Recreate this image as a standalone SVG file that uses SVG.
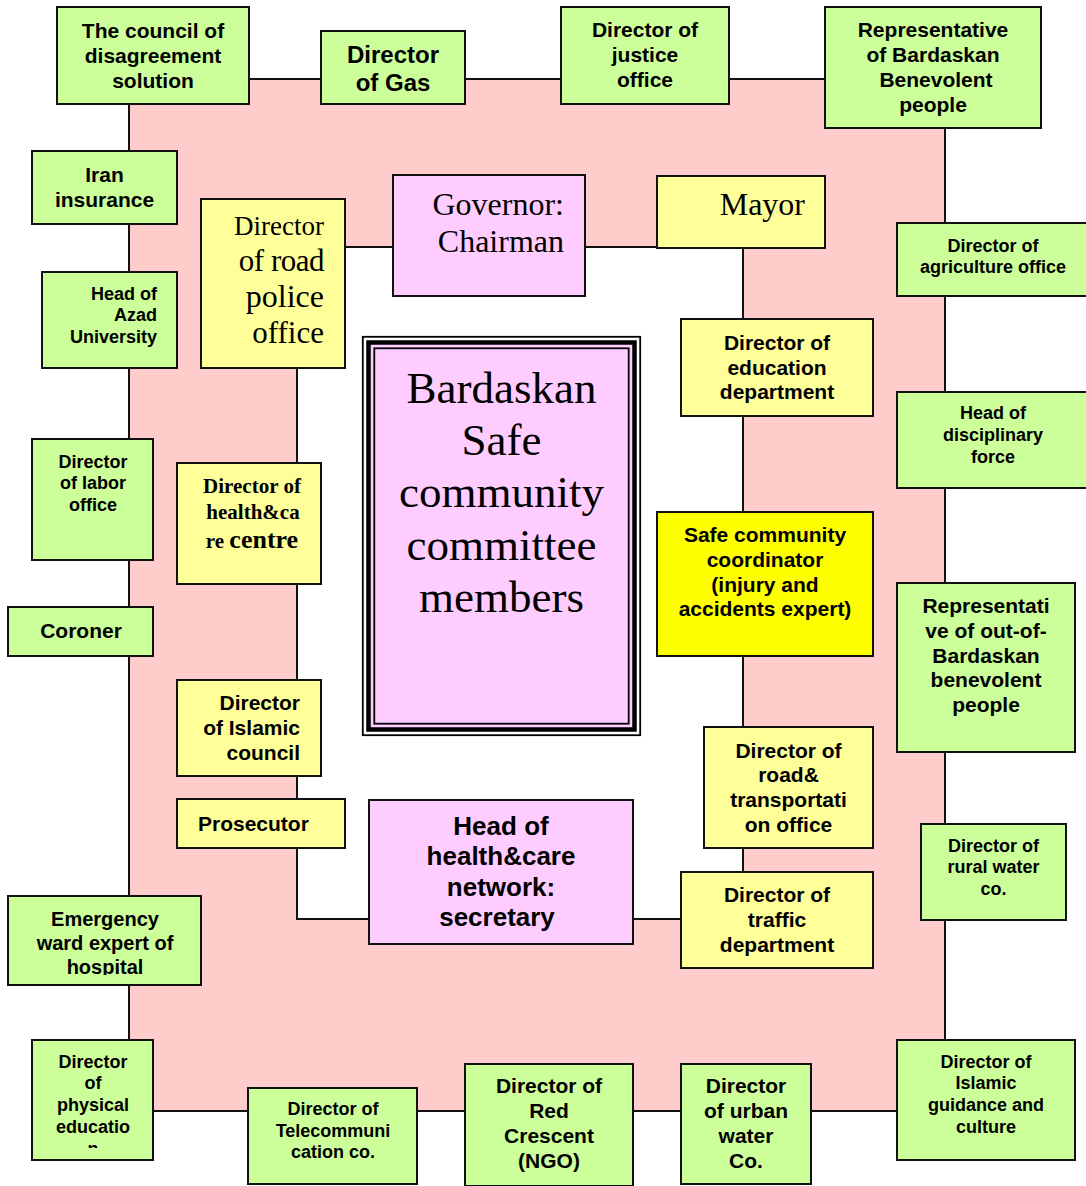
<svg xmlns="http://www.w3.org/2000/svg" width="1086" height="1186" viewBox="0 0 1086 1186">
<style>
.g{fill:#CCFF99;stroke:#111;stroke-width:2}
.y{fill:#FFFF99;stroke:#111;stroke-width:2}
.Y{fill:#FFFF00;stroke:#111;stroke-width:2}
.p{fill:#FFCCFF;stroke:#111;stroke-width:2}
.s{font-family:"Liberation Sans",Arial,sans-serif;font-weight:bold;fill:#000;text-anchor:middle}
.f18{font-size:18px}.f21{font-size:21px}.f20{font-size:20px}.f24{font-size:24px}.f26{font-size:26px}
.r{font-family:"Liberation Serif","Times New Roman",serif;fill:#000}
.e{text-anchor:end}.m{text-anchor:middle}.st{text-anchor:start}
.ln{fill:none;stroke:#111;stroke-width:2}
</style>
<defs>
<clipPath id="clipEm"><rect x="8" y="896" width="193" height="79"/></clipPath>
<clipPath id="clipPh"><rect x="32" y="1040" width="121" height="108"/></clipPath>
</defs>
<rect width="1086" height="1186" fill="#fff"/>
<g id="background">
<rect x="129" y="79" width="816" height="1032" fill="#FFCCCC"/>
<rect x="297" y="247" width="446" height="672" fill="#fff"/>
</g>
<g id="connectors">
<rect class="ln" x="129" y="79" width="816" height="1032"/>
<rect class="ln" x="297" y="247" width="446" height="672"/>
</g>
<g id="council"><rect class="g" x="57" y="7" width="192" height="97"/><text class="s f21"><tspan x="153" y="38">The council of</tspan><tspan x="153" y="63">disagreement</tspan><tspan x="153" y="88">solution</tspan></text></g>
<g id="gas"><rect class="g" x="321" y="31" width="144" height="73"/><text class="s f24"><tspan x="393" y="63">Director</tspan><tspan x="393" y="91">of Gas</tspan></text></g>
<g id="justice"><rect class="g" x="561" y="7" width="168" height="97"/><text class="s f21"><tspan x="645" y="37">Director of</tspan><tspan x="645" y="62">justice</tspan><tspan x="645" y="87">office</tspan></text></g>
<g id="rep-bardaskan"><rect class="g" x="825" y="7" width="216" height="121"/><text class="s f21"><tspan x="933" y="37">Representative</tspan><tspan x="933" y="62">of Bardaskan</tspan><tspan x="936" y="87">Benevolent</tspan><tspan x="933" y="112">people</tspan></text></g>
<g id="iran"><rect class="g" x="32" y="151" width="145" height="73"/><text class="s f21"><tspan x="104.5" y="182">Iran</tspan><tspan x="104.5" y="207">insurance</tspan></text></g>
<g id="azad"><rect class="g" x="42" y="272" width="135" height="96"/><text class="s f18 e"><tspan x="157" y="300">Head of</tspan><tspan x="157" y="321">Azad</tspan><tspan x="157" y="343">University</tspan></text></g>
<g id="labor"><rect class="g" x="32" y="439" width="121" height="121"/><text class="s f18"><tspan x="93" y="468">Director</tspan><tspan x="93" y="489">of labor</tspan><tspan x="93" y="511">office</tspan></text></g>
<g id="coroner"><rect class="g" x="8" y="607" width="145" height="49"/><text class="s f21" x="81" y="638">Coroner</text></g>
<g id="emergency"><rect class="g" x="8" y="896" width="193" height="89"/><text class="s f20" clip-path="url(#clipEm)"><tspan x="105" y="926">Emergency</tspan><tspan x="105" y="950">ward expert of</tspan><tspan x="105" y="974">hospital</tspan></text></g>
<g id="physical"><rect class="g" x="32" y="1040" width="121" height="120"/><text class="s f18" clip-path="url(#clipPh)"><tspan x="93" y="1068">Director</tspan><tspan x="93" y="1089">of</tspan><tspan x="93" y="1111">physical</tspan><tspan x="93" y="1133">educatio</tspan><tspan x="93" y="1155">n</tspan></text></g>
<g id="telecom"><rect class="g" x="248" y="1088" width="169" height="96"/><text class="s f18"><tspan x="333" y="1115">Director of</tspan><tspan x="333" y="1137">Telecommuni</tspan><tspan x="333" y="1158">cation co.</tspan></text></g>
<g id="red-crescent"><rect class="g" x="465" y="1064" width="168" height="122"/><text class="s f21"><tspan x="549" y="1093">Director of</tspan><tspan x="549" y="1118">Red</tspan><tspan x="549" y="1143">Crescent</tspan><tspan x="549" y="1168">(NGO)</tspan></text></g>
<g id="urban-water"><rect class="g" x="681" y="1064" width="130" height="120"/><text class="s f21"><tspan x="746" y="1093">Director</tspan><tspan x="746" y="1118">of urban</tspan><tspan x="746" y="1143">water</tspan><tspan x="746" y="1168">Co.</tspan></text></g>
<g id="islamic-guidance"><rect class="g" x="897" y="1040" width="178" height="120"/><text class="s f18"><tspan x="986" y="1068">Director of</tspan><tspan x="986" y="1089">Islamic</tspan><tspan x="986" y="1111">guidance and</tspan><tspan x="986" y="1133">culture</tspan></text></g>
<g id="rural-water"><rect class="g" x="921" y="824" width="145" height="96"/><text class="s f18"><tspan x="993.5" y="852">Director of</tspan><tspan x="993.5" y="873">rural water</tspan><tspan x="993.5" y="895">co.</tspan></text></g>
<g id="out-of-bardaskan"><rect class="g" x="897" y="583" width="178" height="169"/><text class="s f21"><tspan x="986" y="613">Representati</tspan><tspan x="986" y="638">ve of out-of-</tspan><tspan x="986" y="663">Bardaskan</tspan><tspan x="986" y="687">benevolent</tspan><tspan x="986" y="712">people</tspan></text></g>
<g id="disciplinary"><rect class="g" x="897" y="392" width="195" height="96"/><text class="s f18"><tspan x="993" y="419">Head of</tspan><tspan x="993" y="441">disciplinary</tspan><tspan x="993" y="463">force</tspan></text></g>
<g id="agriculture"><rect class="g" x="897" y="223" width="195" height="73"/><text class="s f18"><tspan x="993" y="252">Director of</tspan><tspan x="993" y="273">agriculture office</tspan></text></g>
<g id="governor"><rect class="p" x="393" y="175" width="192" height="121"/><text class="r e" font-size="32"><tspan x="564" y="215">Governor:</tspan><tspan x="564" y="252">Chairman</tspan></text></g>
<g id="mayor"><rect class="y" x="657" y="176" width="168" height="72"/><text class="r e" font-size="32" x="805" y="215">Mayor</text></g>
<g id="road-police"><rect class="y" x="201" y="199" width="144" height="169"/><text class="r e"><tspan x="324" y="235" font-size="27">Director</tspan><tspan x="324" y="271" font-size="31" letter-spacing="-0.5">of road</tspan><tspan x="324" y="307" font-size="32">police</tspan><tspan x="324" y="343" font-size="31">office</tspan></text></g>
<g id="health-centre"><rect class="y" x="177" y="463" width="144" height="121"/><text class="r m" font-weight="bold" font-size="21"><tspan x="252" y="493">Director of</tspan><tspan x="253" y="519">health&amp;ca</tspan><tspan x="252" y="548">re <tspan font-size="26">centre</tspan></tspan></text></g>
<g id="islamic-council"><rect class="y" x="177" y="680" width="144" height="96"/><text class="s f21 e"><tspan x="300" y="710">Director</tspan><tspan x="300" y="735">of Islamic</tspan><tspan x="300" y="760">council</tspan></text></g>
<g id="prosecutor"><rect class="y" x="177" y="799" width="168" height="49"/><text class="s f21 st" x="198" y="831">Prosecutor</text></g>
<g id="head-network"><rect class="p" x="369" y="800" width="264" height="144"/><text class="s f26"><tspan x="501" y="835">Head of</tspan><tspan x="501" y="865">health&amp;care</tspan><tspan x="501" y="896">network:</tspan><tspan x="497" y="926">secretary</tspan></text></g>
<g id="traffic"><rect class="y" x="681" y="872" width="192" height="96"/><text class="s f21"><tspan x="777" y="902">Director of</tspan><tspan x="777" y="927">traffic</tspan><tspan x="777" y="952">department</tspan></text></g>
<g id="road-transport"><rect class="y" x="704" y="727" width="169" height="121"/><text class="s f21"><tspan x="788.5" y="758">Director of</tspan><tspan x="788.5" y="782">road&amp;</tspan><tspan x="788.5" y="807">transportati</tspan><tspan x="788.5" y="832">on office</tspan></text></g>
<g id="coordinator"><rect class="Y" x="657" y="512" width="216" height="144"/><text class="s f21"><tspan x="765" y="542">Safe community</tspan><tspan x="765" y="567">coordinator</tspan><tspan x="765" y="592">(injury and</tspan><tspan x="765" y="616">accidents expert)</tspan></text></g>
<g id="education"><rect class="y" x="681" y="319" width="192" height="97"/><text class="s f21"><tspan x="777" y="350">Director of</tspan><tspan x="777" y="375">education</tspan><tspan x="777" y="399">department</tspan></text></g>
<g id="committee">
<rect x="362.8" y="336.8" width="277.4" height="398.4" fill="#fff" stroke="#000" stroke-width="1.8"/>
<rect x="368.5" y="342.5" width="266" height="387" fill="#FFCCFF" stroke="#000" stroke-width="4.5"/>
<rect x="374.3" y="348.3" width="254.4" height="375.4" fill="none" stroke="#000" stroke-width="1.8"/>
<text class="r m" font-size="45"><tspan x="501.5" y="403">Bardaskan</tspan><tspan x="501.5" y="455">Safe</tspan><tspan x="501.5" y="507">community</tspan><tspan x="501.5" y="560">committee</tspan><tspan x="501.5" y="612">members</tspan></text>
</g>
</svg>
